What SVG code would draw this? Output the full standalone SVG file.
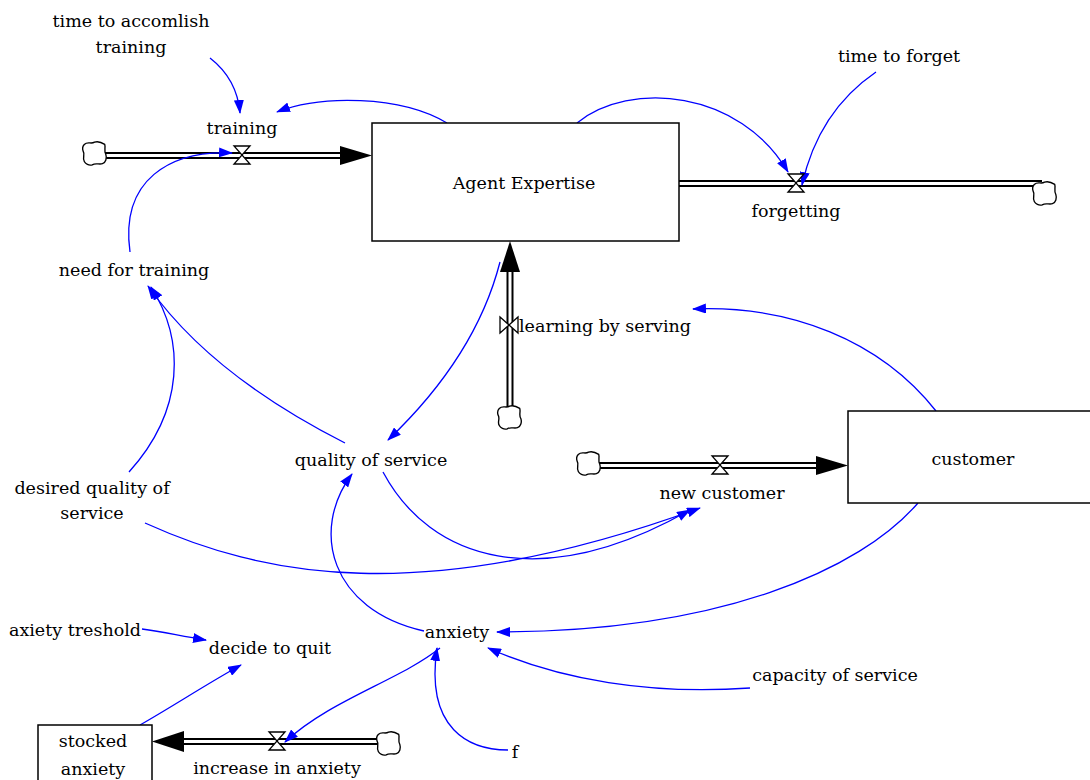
<svg xmlns="http://www.w3.org/2000/svg" width="1090" height="780" viewBox="0 0 1090 780">
<defs>
<style>
text{font-family:"DejaVu Serif","Liberation Serif",serif;font-size:17.5px;fill:#000;text-anchor:middle}
.box{fill:#fff;stroke:#000;stroke-width:1.5}
.pipeo{stroke:#000;stroke-width:7;fill:none}
.pipei{stroke:#fff;stroke-width:3;fill:none}
.link{stroke:#0000ff;stroke-width:1.3;fill:none;marker-end:url(#ba)}
.valve{fill:#fff;stroke:#000;stroke-width:1.3}
.cloud{fill:#fff;stroke:#000;stroke-width:1.2}
</style>
<marker id="ba" viewBox="0 0 14 10" refX="13" refY="5" markerWidth="14" markerHeight="10" markerUnits="userSpaceOnUse" orient="auto">
<path d="M0,0 L14,5 L0,10 Z" fill="#0000ff"/>
</marker>
<symbol id="cl" viewBox="-11 -11 22 22" overflow="visible">
<path class="cloud" d="M-9,-8 C-6,-11 -3,-8 0,-10 C3,-11 6,-10 9,-8 C10,-5 8,-2 10,1 C11,4 10,8 7,9 C4,10 1,8 -2,10 C-5,11 -8,9 -9,7 C-11,4 -8,1 -10,-2 C-11,-5 -10,-7 -9,-8 Z"/>
</symbol>
</defs>
<rect width="1090" height="780" fill="#fff"/>

<!-- flows (pipes) -->
<g id="flows">
<g id="flow-training">
<path class="pipeo" d="M104,155.5 H348"/><path class="pipei" d="M104,155.5 H348"/>
<path d="M340,146 L372,155.5 L340,165 Z" fill="#000"/>
<use href="#cl" x="82" y="141" width="25" height="25"/>
</g>
<g id="flow-forgetting">
<path class="pipeo" d="M679,183.5 H1042"/><path class="pipei" d="M679,183.5 H1042"/>
<use href="#cl" x="1032" y="181" width="25" height="25"/>
</g>
<g id="flow-learning">
<path class="pipeo" d="M510,410 V268"/><path class="pipei" d="M510,410 V268"/>
<path d="M500,272 L510,241 L520,272 Z" fill="#000"/>
<use href="#cl" x="497" y="405" width="25" height="25"/>
</g>
<g id="flow-newcustomer">
<path class="pipeo" d="M598,465.5 H822"/><path class="pipei" d="M598,465.5 H822"/>
<path d="M816,456 L848,465.5 L816,475 Z" fill="#000"/>
<use href="#cl" x="576" y="451" width="25" height="25"/>
</g>
<g id="flow-increase">
<path class="pipeo" d="M380,741.5 H176"/><path class="pipei" d="M380,741.5 H176"/>
<path d="M184,731 L152,741.5 L184,752 Z" fill="#000"/>
<use href="#cl" x="376" y="731" width="25" height="25"/>
</g>
</g>

<!-- connectors -->
<g id="connectors">
<path class="link" d="M210,58 C228,72 238,90 240,113"/>
<path class="link" d="M447,123 C400,95 320,95 277,112"/>
<path class="link" d="M130,252 C120,180 170,150 232,153"/>
<path class="link" d="M577,123 C630,80 740,90 788,172"/>
<path class="link" d="M876,72 C835,100 812,140 802,185"/>
<path class="link" d="M500,262 C480,340 430,400 388,440"/>
<path class="link" d="M936,411 C880,340 790,305 693,309"/>
<path class="link" d="M345,443 C280,410 200,360 148,286"/>
<path class="link" d="M129,472 C185,410 185,340 151,287"/>
<path class="link" d="M145,523 C260,575 420,610 700,508"/>
<path class="link" d="M383,472 C430,560 540,595 690,510"/>
<path class="link" d="M424,631 C330,610 310,530 352,474"/>
<path class="link" d="M918,503 C860,570 720,632 497,632"/>
<path class="link" d="M750,688 C650,695 560,680 488,648"/>
<path class="link" d="M508,750 C470,750 425,730 437,648"/>
<path class="link" d="M440,648 C400,680 330,700 285,742"/>
<path class="link" d="M142,629 C165,632 180,636 206,640"/>
<path class="link" d="M140,725 C175,705 205,685 241,665"/>
</g>

<!-- nodes -->
<g id="agent-expertise"><rect class="box" x="372" y="123" width="307" height="118"/><text x="524" y="189">Agent Expertise</text></g>
<g id="customer"><rect class="box" x="848" y="411" width="260" height="92"/><text x="973" y="465">customer</text></g>
<g id="stocked-anxiety"><rect class="box" x="38" y="725" width="114" height="70"/><text x="93" y="747">stocked</text><text x="93" y="775">anxiety</text></g>

<g id="training"><path class="valve" d="M234,146 H250 L234,164 H250 Z"/><text x="242" y="134">training</text></g>
<g id="forgetting"><path class="valve" d="M788,174 H804 L788,192 H804 Z"/><text x="796" y="217">forgetting</text></g>
<g id="learning-by-serving"><path class="valve" d="M500,317 V333 L518,317 V333 Z"/><text x="605" y="332">learning by serving</text></g>
<g id="new-customer"><path class="valve" d="M712,456 H728 L712,474 H728 Z"/><text x="722" y="499">new customer</text></g>
<g id="increase-in-anxiety"><path class="valve" d="M269,732 H285 L269,750 H285 Z"/><text x="277" y="774">increase in anxiety</text></g>

<g id="time-to-accomlish-training"><text x="131" y="27">time to accomlish</text><text x="131" y="53">training</text></g>
<g id="time-to-forget"><text x="899" y="62">time to forget</text></g>
<g id="need-for-training"><text x="134" y="276">need for training</text></g>
<g id="quality-of-service"><text x="371" y="466">quality of service</text></g>
<g id="desired-quality-of-service"><text x="92" y="494">desired quality of</text><text x="92" y="519">service</text></g>
<g id="anxiety"><text x="457" y="638">anxiety</text></g>
<g id="capacity-of-service"><text x="835" y="681">capacity of service</text></g>
<g id="f"><text x="515" y="758">f</text></g>
<g id="axiety-treshold"><text x="75" y="636">axiety treshold</text></g>
<g id="decide-to-quit"><text x="270" y="654">decide to quit</text></g>
</svg>
